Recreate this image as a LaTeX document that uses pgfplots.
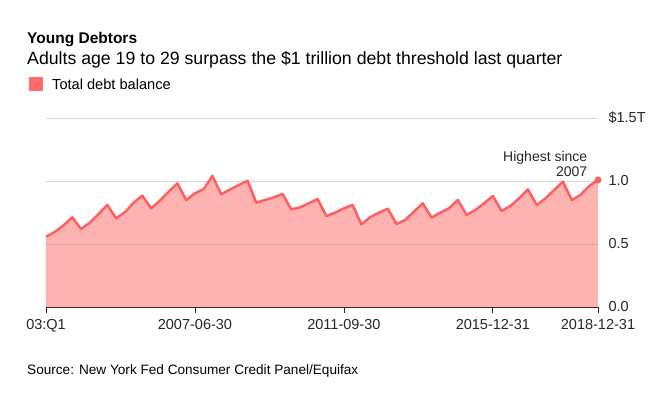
\documentclass[border=0pt]{standalone}
\usepackage{pgfplots}
\usepackage{pgfplotstable}
\pgfplotsset{compat=1.18}
\usepackage{fontspec}
\setmainfont{Liberation Sans}
\definecolor{lineC}{HTML}{FF5F5F}
\definecolor{legC}{HTML}{FF6B6B}
\pgfplotstableread{
q v
0 0.558
1 0.595
2 0.648
3 0.712
4 0.619
5 0.669
6 0.738
7 0.810
8 0.704
9 0.751
10 0.828
11 0.884
12 0.783
13 0.844
14 0.915
15 0.981
16 0.849
17 0.902
18 0.936
19 1.040
20 0.895
21 0.932
22 0.968
23 1.002
24 0.828
25 0.849
26 0.870
27 0.897
28 0.775
29 0.791
30 0.823
31 0.857
32 0.722
33 0.749
34 0.783
35 0.810
36 0.656
37 0.712
38 0.749
39 0.780
40 0.659
41 0.690
42 0.757
43 0.823
44 0.709
45 0.749
46 0.783
47 0.849
48 0.730
49 0.770
50 0.823
51 0.881
52 0.762
53 0.802
54 0.862
55 0.934
56 0.810
57 0.862
58 0.929
59 0.995
60 0.849
61 0.889
62 0.960
63 1.008
}\debt
\begin{document}
\begin{tikzpicture}
\begin{axis}[
  scale only axis,
  width=552pt, height=189pt,
  xmin=0, xmax=63, ymin=0, ymax=1.5,
  clip=false,
  axis x line*=bottom, axis y line*=right,
  x axis line style={black!85, line width=0.8pt, -},
  y axis line style={draw=none},
  xtick={0,17,34,51,63},
  xticklabels={03:Q1,2007-06-30,2011-09-30,2015-12-31,2018-12-31},
  ytick={0,0.5,1,1.5},
  yticklabels={0.0,0.5,1.0,\$1.5T},
  ymajorgrids, grid style={black!15, line width=0.7pt},
  tick align=outside, major tick length=6pt,
  xtick style={black!85, line width=0.8pt},
  ytick style={draw=none},
  yticklabel style={anchor=west, xshift=1pt},
  xticklabel style={yshift=-3pt},
  ticklabel style={font=\fontsize{14.5}{16}\selectfont, text=black!85},
]
\addplot[fill=lineC, fill opacity=0.48, draw=none] table[x=q,y=v]{\debt} \closedcycle;
\addplot[lineC, line width=2.5pt, line join=round] table[x=q,y=v]{\debt};
\addplot[only marks, mark=*, mark size=3.3pt, color=lineC] coordinates {(63,1.008)};
\node[anchor=south east, align=right, inner sep=0, font=\fontsize{14}{15}\selectfont, text=black!85] at (axis cs:61.8,1.03) {Highest since\\2007};
\coordinate (O) at (rel axis cs:0,0);
\end{axis}
\node[anchor=base west, inner sep=0, font=\fontsize{15.5}{18}\selectfont\bfseries] at ([xshift=-19pt,yshift=263pt]O) {Young Debtors};
\node[anchor=base west, inner sep=0, font=\fontsize{17.7}{20}\selectfont] at ([xshift=-19pt,yshift=243pt]O) {Adults age 19 to 29 surpass the \$1 trillion debt threshold last quarter};
\fill[legC] ([xshift=-17pt,yshift=216pt]O) rectangle ([xshift=-3pt,yshift=230pt]O);
\node[anchor=base west, inner sep=0, font=\fontsize{14.6}{16}\selectfont] at ([xshift=6pt,yshift=218pt]O) {Total debt balance};
\node[anchor=base west, inner sep=0, font=\fontsize{13.6}{15}\selectfont] at ([xshift=-19pt,yshift=-67pt]O) {Source: New York Fed Consumer Credit Panel/Equifax};
\pgfresetboundingbox
\path[use as bounding box] ([xshift=-46pt,yshift=-90pt]O) rectangle ([xshift=602pt,yshift=307pt]O);
\end{tikzpicture}
\end{document}
